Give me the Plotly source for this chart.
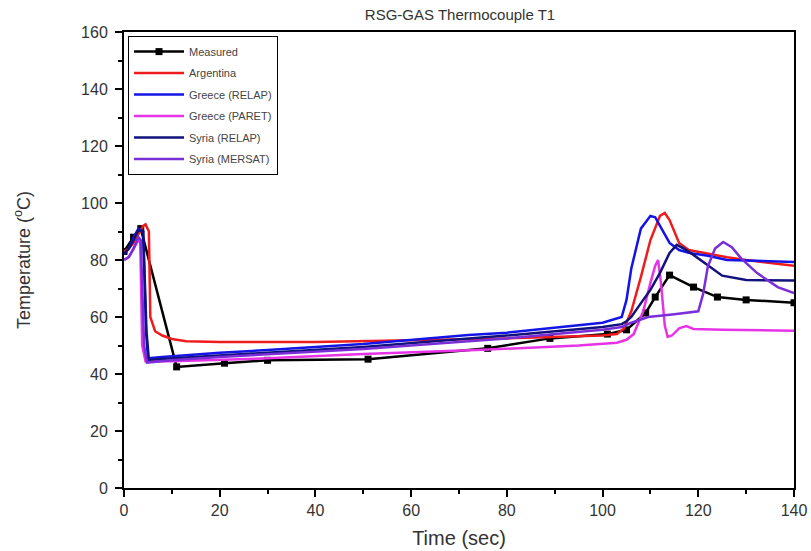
import plotly.graph_objects as go

# ---------------- data ----------------
meas_t = [0, 2, 3.5, 11, 21, 30, 51, 76, 89, 101, 105, 109, 111, 114, 119, 124, 130, 140]
meas_T = [83, 88, 91, 42.5, 43.8, 44.8, 45.2, 49, 52.5, 54, 55.5, 61.4, 67, 74.7, 70.5, 67, 66, 65]

arg_t = [0, 1, 2, 3, 4, 4.5, 5.2, 5.5, 6.5, 8, 10, 13, 20, 40, 60, 80, 100, 103, 104.5, 106, 108, 110, 112, 113, 114, 116, 118, 121, 126, 130, 140]
arg_T = [83, 84, 86, 89, 92, 92.5, 90, 60, 55, 53.5, 52.3, 51.5, 51.2, 51.2, 51.8, 52.5, 53.5, 54, 56, 62, 74, 87, 95.5, 96.5, 94, 86, 83.5, 82.5, 81, 80, 78]

grr_t = [0, 1, 2, 3, 4, 4.6, 5, 8, 20, 30, 50, 72, 80, 100, 104, 105, 106, 108, 110, 111, 112, 114, 116, 118, 122, 126, 130, 140]
grr_T = [82, 84, 88, 91, 90, 55, 45.5, 46, 47.5, 48.4, 50.5, 53.7, 54.5, 58, 60, 66, 77, 91, 95.5, 95, 92, 86, 83.5, 82.5, 81.5, 80, 79.8, 79.3]

grp_t = [0, 1, 2, 3, 3.4, 3.8, 4.5, 10, 30, 50, 75, 95, 103, 105, 106.5, 108.5, 110, 111, 111.6, 112.2, 113, 113.6, 114.5, 116, 117.5, 119, 125, 140]
grp_T = [80, 81, 84, 87, 86, 50, 44.5, 44.5, 45.5, 47, 48.5, 50, 51, 52, 54, 62, 72, 78, 80, 72, 57, 53, 53.5, 56, 56.8, 55.8, 55.5, 55.2]

syr_t = [0, 1, 2, 3, 4, 4.7, 5.2, 10, 20, 30, 50, 72, 80, 100, 104, 105, 106, 108.5, 110, 112, 114, 115.5, 117, 119, 122.4, 125, 130, 140]
syr_T = [82, 84, 87, 90.5, 90, 55, 45, 45.5, 46.5, 47.5, 49.5, 52.5, 53.5, 56.5, 57.5, 58.5, 60, 66, 69.5, 75.5, 82.5, 85.3, 84, 81.8, 77.6, 74.5, 73, 72.8]

sym_t = [0, 1, 2, 3, 3.5, 4.2, 4.8, 10, 20, 30, 50, 72, 80, 100, 104, 106, 109.5, 115, 120, 121, 122, 123.5, 125.2, 127, 129, 132.3, 136.6, 140]
sym_T = [80, 81, 84, 88, 87, 50, 44, 44.8, 46, 47, 48.8, 51.5, 52.5, 55.5, 56.5, 58, 60, 61, 62, 68, 77.7, 84, 86.3, 84.5, 80.5, 75.4, 70.5, 68.4]

x_ticks = [0, 20, 40, 60, 80, 100, 120, 140]
y_ticks = [0, 20, 40, 60, 80, 100, 120, 140, 160]

FONT = "Liberation Sans, Arial, sans-serif"

fig = go.Figure()

series = [
    ("Measured", meas_t, meas_T, "#000000", True),
    ("Argentina", arg_t, arg_T, "#ee1c1c", False),
    ("Greece (RELAP)", grr_t, grr_T, "#1414e6", False),
    ("Greece (PARET)", grp_t, grp_T, "#e633e6", False),
    ("Syria (RELAP)", syr_t, syr_T, "#12127e", False),
    ("Syria (MERSAT)", sym_t, sym_T, "#7a2ed8", False),
]

for name, t, T, col, mk in series:
    fig.add_trace(go.Scatter(
        x=t, y=T, name=name, legendgroup=name,
        mode="lines+markers" if mk else "lines",
        line=dict(color=col, width=2.5),
        marker=dict(symbol="square", size=7, color=col) if mk else None,
    ))

fig.update_layout(
    width=811, height=551,
    margin=dict(l=124, r=17, t=32, b=63, autoexpand=False),
    paper_bgcolor="white", plot_bgcolor="white",
    font=dict(family=FONT, color="#333333", size=16),
    title=dict(text="RSG-GAS Thermocouple T1", x=460 / 811, xanchor="center",
               y=1 - 15 / 551, yanchor="middle", yref="container",
               font=dict(size=15, color="#333333")),
    showlegend=True,
    legend=dict(x=0.006, y=0.991, xanchor="left", yanchor="top",
                bordercolor="#000000", borderwidth=1, bgcolor="white",
                font=dict(size=11, color="#444444"), tracegroupgap=2.5,
                itemwidth=50),
)

fig.update_xaxes(
    range=[0, 140], tickvals=x_ticks, ticktext=[str(v) for v in x_ticks],
    automargin=False,
    showgrid=False, zeroline=False, showline=True, linecolor="black", linewidth=2,
    mirror=True, ticks="outside", ticklen=7, tickwidth=1.5, tickcolor="black",
    minor=dict(ticks="outside", ticklen=4, tickwidth=1.5, tickcolor="black", dtick=10, tick0=0),
    title=dict(text="Time (sec)", font=dict(size=20, color="#333333"), standoff=13),
    tickfont=dict(size=16, color="#333333"),
)
fig.update_yaxes(
    range=[0, 160], tickvals=y_ticks, ticktext=[str(v) for v in y_ticks],
    automargin=False, ticklabelstandoff=4,
    showgrid=False, zeroline=False, showline=True, linecolor="black", linewidth=2,
    mirror=True, ticks="outside", ticklen=7, tickwidth=1.5, tickcolor="black",
    minor=dict(ticks="outside", ticklen=4, tickwidth=1.5, tickcolor="black", dtick=10, tick0=0),
    title=dict(text="Temperature (<sup>o</sup>C)", font=dict(size=18, color="#333333"), standoff=46),
    tickfont=dict(size=16, color="#333333"),
)

fig.write_html("out.html", config={"displayModeBar": False},
               post_script="document.body.style.margin='0';document.body.style.overflow='hidden';")
